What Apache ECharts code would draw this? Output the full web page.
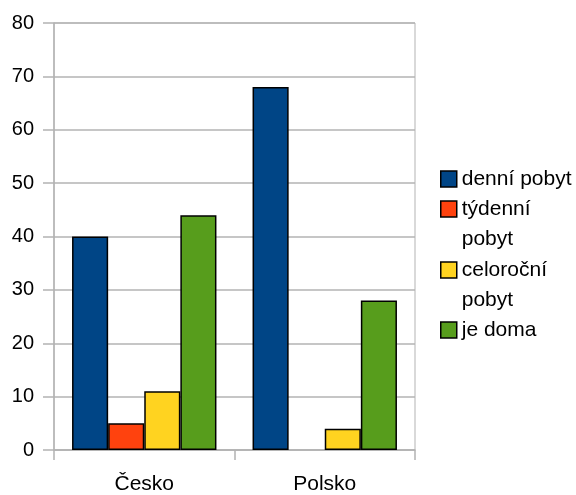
<!DOCTYPE html>
<html>
<head>
<meta charset="utf-8">
<script src="https://cdn.jsdelivr.net/npm/echarts@6/dist/echarts.min.js"></script>
<style>
  html, body { margin: 0; padding: 0; background: #fff; }
  #chart { width: 576px; height: 495px; }
</style>
</head>
<body>
<div id="chart"></div>
<script>
// Categories and series values
var countries = ['Česko', 'Polsko'];
var seriesNames = ['denní pobyt', 'týdenní pobyt', 'celoroční pobyt', 'je doma'];
var denniPobyt = [40, 68];
var tydenniPobyt = [5, 0];
var celorocniPobyt = [11, 4];
var jeDoma = [44, 28];
var yTicks = [0, 10, 20, 30, 40, 50, 60, 70, 80];

// Legend labels as they wrap in the side box
var legendLabels = ['denní pobyt', 'týdenní\npobyt', 'celoroční\npobyt', 'je doma'];

var colors = ['#004586', '#ff420e', '#ffd320', '#579d1c'];
var values = [denniPobyt, tydenniPobyt, celorocniPobyt, jeDoma];
var FONT = '"Liberation Sans", Arial, sans-serif';
var GRID_GRAY = '#b3b3b3';

var chart = echarts.init(document.getElementById('chart'));

// One legend block per entry. A legend label is centred on its swatch, so a
// wrapped label gets a blank leading line: its first line then sits level
// with the swatch and the continuation runs below.
var legendIconCenters = [179, 209, 270, 330];
var LINE_H = 30;
var legends = seriesNames.map(function (name, i) {
  var label = legendLabels[i];
  var lines = label.split('\n').length;
  var shown = lines > 1 ? '\n' + label : label;
  var contentH = (lines > 1 ? 3 : 1) * LINE_H;
  return {
    data: [name],
    orient: 'vertical',
    left: 440,
    top: legendIconCenters[i] - contentH / 2,
    padding: 0,
    itemWidth: 16,
    itemHeight: 16,
    itemGap: 0,
    icon: 'rect',
    selectedMode: false,
    itemStyle: { borderColor: '#000', borderWidth: 1.5 },
    formatter: function () { return shown; },
    textStyle: {
      fontFamily: FONT,
      fontSize: 21,
      color: '#000',
      lineHeight: LINE_H
    }
  };
});

var series = seriesNames.map(function (name, i) {
  return {
    name: name,
    type: 'bar',
    barGap: 0,
    barCategoryGap: '20%',
    // a zero share is left as an empty slot
    data: values[i].map(function (v) { return v === 0 ? '-' : v; }),
    itemStyle: { color: colors[i], borderColor: '#000', borderWidth: 1.5 }
  };
});

chart.setOption({
  animation: false,
  backgroundColor: '#fff',
  color: colors,
  legend: legends,
  grid: {
    left: 54, right: 161, top: 23, bottom: 43,
    show: true, borderColor: GRID_GRAY, borderWidth: 1, backgroundColor: 'transparent'
  },
  xAxis: {
    type: 'category',
    data: countries,
    boundaryGap: true,
    axisLine: { lineStyle: { color: GRID_GRAY, width: 1.5 } },
    axisTick: { show: true, length: 10, interval: 0, lineStyle: { color: GRID_GRAY, width: 1.5 } },
    axisLabel: { margin: 24, fontFamily: FONT, fontSize: 21, color: '#000' },
    splitLine: { show: false }
  },
  yAxis: {
    type: 'value',
    min: yTicks[0],
    max: yTicks[yTicks.length - 1],
    interval: yTicks[1] - yTicks[0],
    axisLine: { show: true, lineStyle: { color: GRID_GRAY, width: 1.5 } },
    axisTick: { show: true, length: 11, lineStyle: { color: GRID_GRAY, width: 1.5 } },
    axisLabel: { margin: 20, fontFamily: FONT, fontSize: 20, color: '#000' },
    splitLine: { show: true, lineStyle: { color: GRID_GRAY, width: 1.5 } }
  },
  series: series
});
</script>
</body>
</html>
